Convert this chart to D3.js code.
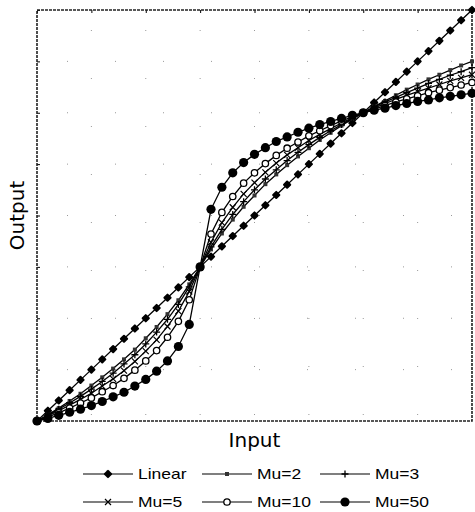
<!DOCTYPE html>
<html><head><meta charset="utf-8">
<script src="https://cdn.jsdelivr.net/npm/d3@7"></script>
<style>body{margin:0;background:#fff}svg{display:block}</style>
</head><body>
<script>
const inputX = [-3.0,-2.8,-2.6,-2.4,-2.2,-2.0,-1.8,-1.6,-1.4,-1.2,-1.0,-0.8,-0.6,-0.4,-0.2,0,0.2,0.4,0.6,0.8,1.0,1.2,1.4,1.6,1.8,2.0,2.2,2.4,2.6,2.8,3.0,3.2,3.4,3.6,3.8,4.0,4.2,4.4,4.6,4.8,5.0];
const linear = [-3.0,-2.8,-2.6,-2.4,-2.2,-2.0,-1.8,-1.6,-1.4,-1.2,-1.0,-0.8,-0.6,-0.4,-0.2,0,0.2,0.4,0.6,0.8,1.0,1.2,1.4,1.6,1.8,2.0,2.2,2.4,2.6,2.8,3.0,3.2,3.4,3.6,3.8,4.0,4.2,4.4,4.6,4.8,5.0];
const mu2 = [-3.00,-2.88,-2.75,-2.61,-2.47,-2.31,-2.15,-1.98,-1.80,-1.61,-1.39,-1.17,-0.92,-0.65,-0.34,0,0.34,0.65,0.92,1.17,1.39,1.61,1.80,1.98,2.15,2.31,2.47,2.61,2.75,2.88,3.00,3.12,3.23,3.34,3.45,3.55,3.65,3.74,3.83,3.92,4.00];
const mu3 = [-3.00,-2.89,-2.77,-2.65,-2.52,-2.38,-2.23,-2.07,-1.89,-1.71,-1.50,-1.27,-1.02,-0.73,-0.39,0,0.39,0.73,1.02,1.27,1.50,1.71,1.89,2.07,2.23,2.38,2.52,2.65,2.77,2.89,3.00,3.11,3.21,3.30,3.39,3.48,3.57,3.65,3.73,3.80,3.88];
const mu5 = [-3.00,-2.90,-2.80,-2.69,-2.58,-2.46,-2.32,-2.18,-2.02,-1.84,-1.64,-1.42,-1.16,-0.86,-0.48,0,0.48,0.86,1.16,1.42,1.64,1.84,2.02,2.18,2.32,2.46,2.58,2.69,2.80,2.90,3.00,3.09,3.18,3.26,3.34,3.41,3.48,3.55,3.62,3.68,3.74];
const mu10 = [-3.00,-2.92,-2.84,-2.75,-2.65,-2.55,-2.43,-2.31,-2.17,-2.01,-1.83,-1.63,-1.37,-1.06,-0.64,0,0.64,1.06,1.37,1.63,1.83,2.01,2.17,2.31,2.43,2.55,2.65,2.75,2.84,2.92,3.00,3.07,3.14,3.21,3.27,3.33,3.39,3.44,3.49,3.54,3.59];
const mu50 = [-3.00,-2.95,-2.89,-2.83,-2.77,-2.70,-2.62,-2.53,-2.44,-2.32,-2.19,-2.03,-1.83,-1.55,-1.12,0,1.12,1.55,1.83,2.03,2.19,2.32,2.44,2.53,2.62,2.70,2.77,2.83,2.89,2.95,3.00,3.05,3.09,3.14,3.18,3.22,3.25,3.29,3.32,3.35,3.38];
const seriesNames = ["Linear","Mu=2","Mu=3","Mu=5","Mu=10","Mu=50"];
const tickValues = [-3,-2,-1,0,1,2,3,4,5];

const W = 475, H = 512;
const m = {left:37, right:3, top:10, bottom:91};
const svg = d3.select("body").append("svg").attr("width",W).attr("height",H);
const x = d3.scaleLinear().domain([-3,5]).range([m.left, W-m.right]);
const y = d3.scaleLinear().domain([-3,5]).range([H-m.bottom, m.top]);

// grid (very sparse dotted)
const grid = svg.append("g").attr("stroke","#999").attr("stroke-width",1).attr("stroke-dasharray","1,47");
grid.selectAll("line.v").data(tickValues.slice(1,-1)).join("line")
  .attr("x1",d=>x(d)).attr("x2",d=>x(d)).attr("y1",y(5)+20).attr("y2",y(-3));
grid.selectAll("line.h").data(tickValues.slice(1,-1)).join("line")
  .attr("y1",d=>y(d)).attr("y2",d=>y(d)).attr("x1",x(-3)+30).attr("x2",x(5));

// axes (ticks inward, no labels)
svg.append("g").attr("transform",`translate(0,${y(5)})`)
  .call(d3.axisBottom(x).tickValues(tickValues).tickSize(3).tickFormat(""))
  .call(g=>g.select(".domain").remove());
svg.append("g").attr("transform",`translate(${x(-3)},0)`)
  .call(d3.axisRight(y).tickValues(tickValues).tickSize(3).tickFormat(""))
  .call(g=>g.select(".domain").remove());

// frame
svg.append("rect").attr("x",x(-3)).attr("y",y(5)).attr("width",x(5)-x(-3)).attr("height",y(-3)-y(5))
  .attr("fill","none").attr("stroke","#222").attr("stroke-width",1.6).attr("stroke-dasharray","3,1");

const allSeries = [linear, mu2, mu3, mu5, mu10, mu50];
const line = d3.line().x((d,i)=>x(inputX[i])).y(d=>y(d));

function marker(g, idx, cx, cy){
  if(idx===0){ g.append("rect").attr("x",-3.2).attr("y",-3.2).attr("width",6.4).attr("height",6.4).attr("rx",1).attr("transform",`translate(${cx},${cy}) rotate(45)`).attr("fill","#000"); }
  else if(idx===1){ g.append("rect").attr("x",cx-2).attr("y",cy-2).attr("width",4).attr("height",4).attr("fill","#333"); }
  else if(idx===2){ g.append("path").attr("d",`M${cx-3.5},${cy}H${cx+3.5}M${cx},${cy-3.5}V${cy+3.5}`).attr("stroke","#000").attr("stroke-width",1.3); }
  else if(idx===3){ g.append("path").attr("d",`M${cx-3},${cy-3}L${cx+3},${cy+3}M${cx-3},${cy+3}L${cx+3},${cy-3}`).attr("stroke","#000").attr("stroke-width",1.2); }
  else if(idx===4){ g.append("circle").attr("cx",cx).attr("cy",cy).attr("r",3.2).attr("fill","#fff").attr("stroke","#000").attr("stroke-width",1.3); }
  else { g.append("circle").attr("cx",cx).attr("cy",cy).attr("r",4.6).attr("fill","#000"); }
}

allSeries.forEach((s,idx)=>{
  const g = svg.append("g");
  g.append("path").datum(s).attr("d",line).attr("fill","none").attr("stroke","#000").attr("stroke-width",1.3);
  s.forEach((v,i)=>marker(g, idx, x(inputX[i]), y(v)));
});

// axis titles
svg.append("text").attr("x",(x(-3)+x(5))/2).attr("y",447).attr("text-anchor","middle")
  .attr("font-family","DejaVu Sans").attr("font-size",20).text("Input");
svg.append("text").attr("transform",`translate(24,${(y(5)+y(-3))/2}) rotate(-90)`).attr("text-anchor","middle")
  .attr("font-family","DejaVu Sans").attr("font-size",20).text("Output");

// legend
const lx = [83, 202, 320], ly = [474, 502];
seriesNames.forEach((name,idx)=>{
  const col = idx%3, row = Math.floor(idx/3);
  const g = svg.append("g");
  const x0 = lx[col], x1 = x0+50, yy = ly[row];
  g.append("line").attr("x1",x0).attr("x2",x1).attr("y1",yy).attr("y2",yy).attr("stroke","#000").attr("stroke-width",1.1);
  marker(g, idx, (x0+x1)/2, yy);
  g.append("text").attr("transform",`translate(${x1+5},${yy+5}) scale(1.25,1)`)
    .attr("font-family","Liberation Sans, Arial, sans-serif").attr("font-size",14).text(name);
});
</script>
</body></html>
